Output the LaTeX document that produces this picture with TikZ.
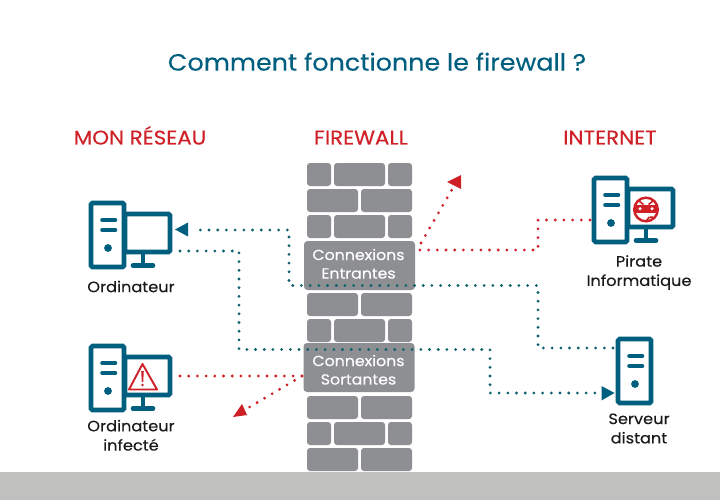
\documentclass[tikz,border=0pt]{standalone}
\usepackage{fontspec}
\setmainfont{Poppins}[FakeStretch=1.08,FakeBold=0.25]
\definecolor{teal1}{HTML}{005F7F}
\definecolor{teal2}{HTML}{0E6070}
\definecolor{red1}{HTML}{CF2027}
\definecolor{brick}{HTML}{8E8F92}
\definecolor{band}{HTML}{C0C0BE}
\definecolor{ink}{HTML}{1A1A1A}
\tikzset{
  x=1pt,y=-1pt,
  brickb/.style={fill=brick,rounded corners=3pt,draw=none},
  bigbox/.style={fill=brick,rounded corners=3.5pt,draw=none},
  boxtext/.style={text=white,font=\fontsize{14.6}{18.5}\selectfont,align=center,inner sep=0pt},
  dots/.style={line width=3.1pt,line cap=round,dash pattern=on 0pt off 8.7pt},
  tealdots/.style={dots,draw=teal2},
  reddots/.style={dots,draw=red1},
  title/.style={text=teal1,font=\fontsize{23.5}{28}\selectfont,inner sep=0pt},
  head/.style={text=red1,font=\fontsize{19.8}{22}\selectfont,inner sep=0pt},
  label/.style={text=ink,font=\fontsize{15}{19.3}\selectfont,align=center,inner sep=0pt},
  frame/.style={draw=teal1,line width=4.6pt,rounded corners=1.5pt},
  bar/.style={draw=teal1,line width=4.6pt,line cap=round},
  pics/towerpic/.style={code={
    \draw[frame,fill=white] (2,2) rectangle (35,66);
    \draw[bar] (13.5,19) -- (26,19);
    \draw[bar] (13.5,29) -- (26,29);
    \fill[teal1] (19,47) circle (3.9);
  }},
  pics/pcpic/.style={code={
    \draw[frame,fill=white] (36,13) rectangle (81,51);
    \draw[teal1,line width=4.6pt] (54,53) -- (54,63);
    \draw[bar] (44,64.5) -- (64,64.5);
    \pic {towerpic};
  }},
}
\newcommand{\threerow}[2]{%
  \fill[brickb] (307,#1) rectangle (331,#2);
  \fill[brickb] (334,#1) rectangle (385,#2);
  \fill[brickb] (388,#1) rectangle (412,#2);}
\newcommand{\tworow}[2]{%
  \fill[brickb] (307,#1) rectangle (358,#2);
  \fill[brickb] (361,#1) rectangle (412,#2);}
\begin{document}
\begin{tikzpicture}
\useasboundingbox (0,0) rectangle (720,500);
\fill[white] (0,0) rectangle (720,500);
\fill[band] (0,472) rectangle (720,500);
% wall
\threerow{163}{186}
\tworow{189}{212}
\threerow{215}{238}
\tworow{293}{316}
\threerow{319}{342}
\tworow{396}{419}
\threerow{422}{445}
\tworow{448}{471}
\node[bigbox,minimum width=111pt,minimum height=49pt,inner sep=0pt] (inbox) at (359.5,265.5) {};
\node[bigbox,minimum width=111pt,minimum height=49pt,inner sep=0pt] (outbox) at (359,367.5) {};
\node[boxtext] (intext) at (358.5,263.8) {Connexions\\Entrantes};
\node[boxtext] (outtext) at (358.5,369.8) {Connexions\\Sortantes};
% texts
\node[title,anchor=base] (ttl) at (377,70.6) {Comment fonctionne le firewall ?};
\node[head,anchor=base] (h1) at (140,144.5) {MON RÉSEAU};
\node[head,anchor=base] (h2) at (361,144.5) {FIREWALL};
\node[head,anchor=base] (h3) at (610,144.5) {INTERNET};
\node[label] (l1) at (131,286.5) {Ordinateur};
\node[label] (l2) at (131,435.3) {Ordinateur\\infecté};
\node[label] (l3) at (639,272.5) {Pirate\\Informatique};
\node[label] (l4) at (639,428.5) {Serveur\\distant};
% icons
\pic at (89,201) {pcpic};
\pic at (89,344) {pcpic};
\pic at (592,176) {pcpic};
\pic at (616,337) {towerpic};
% warning
\draw[red1,line width=1.9pt,line join=round] (142.5,364) -- (129,389.5) -- (157,389.5) -- cycle;
\fill[red1] (141.2,371) -- (143.8,371) -- (143.2,382) -- (141.8,382) -- cycle;
\fill[red1] (142.5,385) circle (1.4);
% pirate
\draw[red1,line width=2.4pt,fill=white] (646,209.5) circle (11.8);
\begin{scope}
\clip (646,209.5) circle (12);
\fill[red1] (633,204.5) rectangle (659,213);
\end{scope}
\fill[white] (640,208.7) circle (1.7);
\fill[white] (652,208.7) circle (1.7);
\draw[red1,line width=1.6pt] (639,201) -- (643.5,204.5);
\draw[red1,line width=1.6pt] (653,201) -- (648.5,204.5);
\draw[red1,line width=1.6pt,line cap=round] (646.5,220.5) .. controls (647.5,217.5) and (650,216.5) .. (652.5,217);
% connectors
\coordinate (a0) at (193,230); \coordinate (a1) at (289,230); \coordinate (a2) at (289,285.5);
\coordinate (a3) at (538,285.5); \coordinate (a4) at (538,348); \coordinate (a5) at (613,348);
\draw[tealdots] (a5) -- (a4) -- (a3) -- (a2) -- (a1) -- (a0);
\fill[teal1] (175,229.5) -- (188,222.5) -- (188,236.5) -- cycle;
\coordinate (b0) at (180,251); \coordinate (b1) at (239,251); \coordinate (b2) at (239,349.5);
\coordinate (b3) at (490,349.5); \coordinate (b4) at (490,393); \coordinate (b5) at (600,393);
\draw[tealdots] (b0) -- (b1) -- (b2) -- (b3) -- (b4) -- (b5);
\fill[teal1] (614.5,393) -- (601.5,386) -- (601.5,400.5) -- cycle;
\coordinate (c0) at (590,220); \coordinate (c1) at (538,220); \coordinate (c2) at (538,250); \coordinate (c3) at (418,250);
\draw[reddots] (c0) -- (c1) -- (c2) -- (c3);
\coordinate (c4) at (421,243); \coordinate (c5) at (454,186);
\draw[reddots] (c4) -- (c5);
\fill[red1] (461,175) -- (447,182) -- (461,189) -- cycle;
\coordinate (d0) at (180,376); \coordinate (d1) at (302,376); \coordinate (d2) at (248,408);
\draw[reddots] (d0) -- (d1);
\draw[reddots] (d1) -- (d2);
\fill[red1] (233,417) -- (242,404) -- (247,415) -- cycle;
\end{tikzpicture}
\end{document}
